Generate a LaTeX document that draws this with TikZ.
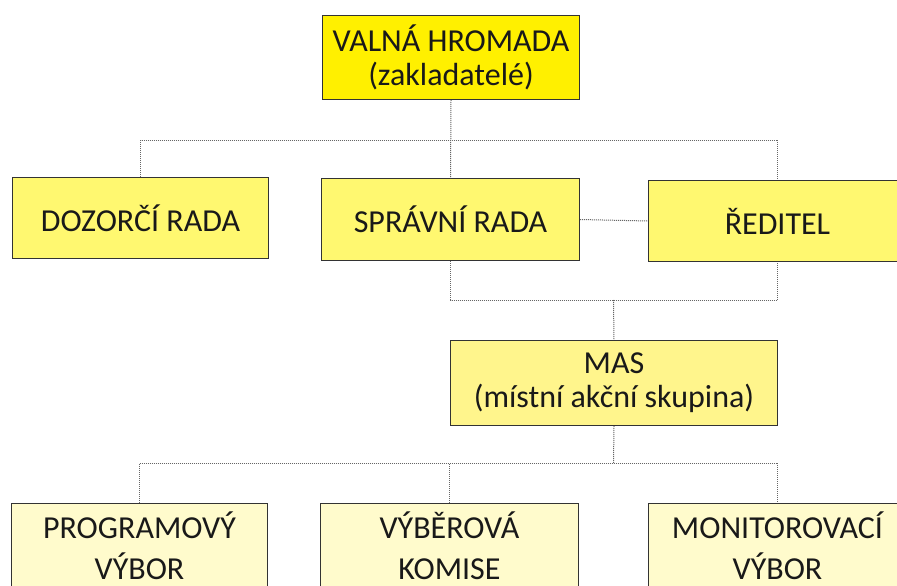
\documentclass[tikz,border=0pt]{standalone}
\usepackage{fontspec}
\setmainfont{Carlito}
\begin{document}
\begin{tikzpicture}[x=1pt,y=-1pt,
  box/.style={draw=black!80,line width=1pt,inner sep=0pt,align=center,
    text=black!90,font=\fontsize{32}{34}\selectfont,anchor=north west},
  lowbox/.style={box,fill=ylow,minimum width=258,minimum height=84,font=\fontsize{32}{41}\selectfont},
  conn/.style={draw=black!60,line width=1pt,densely dotted}]
\useasboundingbox (0,0) rectangle (897,586);
\clip (0,0) rectangle (897,586);
\fill[white] (0,0) rectangle (897,586);
\definecolor{ytop}{HTML}{FFF000}
\definecolor{ymid}{HTML}{FFF870}
\definecolor{ymas}{HTML}{FFF58C}
\definecolor{ylow}{HTML}{FFFBCC}
% nodes
\node[box,fill=ytop,minimum width=257,minimum height=84] (top) at (322,15) {VALNÁ HROMADA\\(zakladatelé)};
\node[box,fill=ymid,minimum width=256,minimum height=81] (doz) at (12,177) {DOZORČÍ RADA};
\node[box,fill=ymid,minimum width=258,minimum height=82] (spr) at (321,178) {SPRÁVNÍ RADA};
\node[box,fill=ymid,minimum width=258,minimum height=81] (red) at (648,180) {ŘEDITEL};
\node[box,fill=ymas,minimum width=327,minimum height=85] (mas) at (450,340) {MAS\\(místní akční skupina)};
\node[lowbox,minimum width=256] (prog) at (11,503) {PROGRAMOVÝ\\VÝBOR};
\node[lowbox] (vyb) at (320,503) {VÝBĚROVÁ\\KOMISE};
\node[lowbox] (mon) at (648,503) {MONITOROVACÍ\\VÝBOR};
% junctions
\coordinate (j1) at (452,140);
\coordinate (j2) at (613.5,300);
\coordinate (j3) at (613.5,463);
% connectors
\draw[conn] (top.south) -- (spr.north);
\draw[conn] (doz.north) |- (j1) -| (red.north);
\draw[conn] (spr.east) -- (red.west);
\draw[conn] (spr.south) |- (j2) -| (red.south);
\draw[conn] (j2) -- (mas.north);
\draw[conn] (mas.south) -- (j3);
\draw[conn] (prog.north) |- (j3) -| (mon.north);
\draw[conn] (vyb.north) -- (vyb.north |- j3);
\end{tikzpicture}
\end{document}
